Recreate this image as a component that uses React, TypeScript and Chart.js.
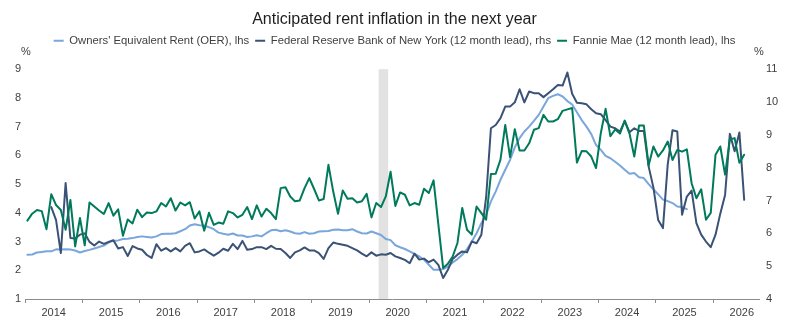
import React, { useEffect, useRef } from "react";
import { Chart, registerables } from "chart.js";

Chart.register(...registerables);

const FONT = "'Liberation Sans', Arial, sans-serif";

const startYear = 2014;
const yearLabels = ["2014", "2015", "2016", "2017", "2018", "2019", "2020", "2021", "2022", "2023", "2024", "2025", "2026"];
const monthCount = 151;
const months: string[] = Array.from({ length: monthCount }, (_, i) =>
  `${startYear + Math.floor(i / 12)}-${String((i % 12) + 1).padStart(2, "0")}`
);

const recessionStart = "2020-03";
const recessionEnd = "2020-04";

const leftTicks = [1, 2, 3, 4, 5, 6, 7, 8, 9];
const rightTicks = [4, 5, 6, 7, 8, 9, 10, 11];

// Owners' Equivalent Rent (OER), lhs
const oer: (number | null)[] = [
  2.54, 2.55, 2.62, 2.64, 2.66, 2.66, 2.73, 2.72, 2.73, 2.72, 2.69, 2.62,
  2.67, 2.71, 2.76, 2.81, 2.86, 2.96, 3.03, 3.04, 3.09, 3.1, 3.12, 3.16,
  3.18, 3.16, 3.14, 3.18, 3.26, 3.27, 3.27, 3.29, 3.36, 3.43, 3.56, 3.6,
  3.57, 3.56, 3.5, 3.43, 3.31, 3.27, 3.24, 3.28, 3.21, 3.21, 3.16, 3.18,
  3.22, 3.18, 3.29, 3.39, 3.41, 3.36, 3.39, 3.35, 3.29, 3.27, 3.33, 3.27,
  3.29, 3.35, 3.36, 3.37, 3.41, 3.42, 3.39, 3.39, 3.43, 3.35, 3.29, 3.28,
  3.35, 3.29, 3.23, 3.09, 3.05, 2.87, 2.8, 2.74, 2.66, 2.57, 2.48, 2.37,
  2.19, 2.02, 2.02, 2.04, 2.13, 2.27, 2.39, 2.54, 2.74, 3.0, 3.29, 3.64,
  3.93, 4.4, 4.74, 5.15, 5.5, 5.84, 6.28, 6.6, 6.83, 7.0, 7.2, 7.41,
  7.7, 7.99, 8.07, 8.13, 8.05, 7.89, 7.77, 7.5, 7.23, 7.0, 6.74, 6.36,
  6.19, 5.98, 5.9, 5.78, 5.65, 5.5, 5.36, 5.39, 5.24, 5.21, 5.0, 4.82,
  4.64, 4.46, 4.41, 4.34, 4.22, 4.2, 4.13, null, null, null, null, null,
  null, null, null, null, null, null, null,
];

// Federal Reserve Bank of New York (12 month lead), rhs
const nyFed: (number | null)[] = [
  null, null, null, null, null, 6.8, 6.4, 5.4, 7.53, 5.86, 5.84, 5.96,
  6.0, 5.74, 5.63, 5.75, 5.68, 5.74, 5.79, 5.54, 5.58, 5.31, 5.61, 5.54,
  5.5, 5.34, 5.25, 5.67, 5.47, 5.55, 5.45, 5.55, 5.45, 5.62, 5.7, 5.42,
  5.45, 5.51, 5.41, 5.32, 5.41, 5.53, 5.47, 5.68, 5.52, 5.77, 5.5, 5.52,
  5.58, 5.58, 5.52, 5.62, 5.53, 5.52, 5.4, 5.25, 5.42, 5.48, 5.57, 5.48,
  5.48, 5.4, 5.22, 5.55, 5.72, 5.68, 5.65, 5.62, 5.55, 5.48, 5.38, 5.3,
  5.42, 5.32, 5.36, 5.35, 5.4, 5.3, 5.25, 5.19, 5.09, 5.38, 5.2, 5.23,
  5.12, 5.2, 5.04, 4.64, 4.89, 5.22, 5.35, 5.45, 5.42, 5.75, 5.7, 5.96,
  7.1, 9.2, 9.3, 9.51, 9.86, 9.86, 9.99, 10.39, 9.99, 10.32, 10.27, 10.27,
  10.15, 10.27, 10.39, 10.52, 10.5, 10.9, 10.25, 9.98, 9.96, 9.93, 9.78, 9.66,
  9.63, 9.45, 9.25, 9.2, 9.1, 9.42, 9.08, 9.2, 9.12, 9.12, 8.04, 7.4,
  6.41, 6.16, 8.1, 9.14, 9.1, 6.57, 7.12, 7.3, 6.31, 5.96, 5.75, 5.58,
  5.96, 6.6, 7.17, 9.03, 8.5, 9.07, 7.02,
];

// Fannie Mae (12 month lead), lhs
const fannie: (number | null)[] = [
  3.73, 3.97, 4.1, 4.06, 3.43, 4.65, 4.27, 4.1, 3.41, 4.45, 2.83, 3.82,
  2.87, 4.36, 4.22, 4.08, 3.96, 4.34, 3.9, 4.12, 3.2, 3.77, 3.63, 4.11,
  3.85, 4.01, 3.99, 4.05, 4.34, 4.22, 4.51, 4.08, 4.36, 4.26, 4.37, 3.8,
  4.05, 3.38, 4.0, 3.58, 3.66, 3.62, 4.05, 3.99, 3.84, 3.93, 4.2, 3.78,
  4.26, 3.87, 4.14, 3.99, 3.78, 4.86, 4.89, 4.57, 4.4, 4.43, 4.86, 5.21,
  4.83, 4.43, 4.48, 5.67, 4.74, 3.97, 4.78, 4.49, 4.51, 4.36, 4.4, 4.66,
  3.84, 4.34, 4.2, 4.57, 5.43, 4.24, 4.71, 4.63, 4.26, 4.34, 4.28, 4.84,
  4.69, 5.13, 3.6, 2.08, 2.23, 2.48, 2.95, 4.17, 3.41, 3.24, 4.22, 3.99,
  3.76, 5.35, 5.36, 5.85, 7.06, 5.94, 6.91, 6.17, 6.17, 6.42, 6.89, 6.95,
  7.41, 7.18, 7.18, 7.26, 7.55, 7.6, 7.65, 5.75, 6.15, 6.14, 5.96, 5.56,
  6.78, 7.62, 6.67, 6.9, 6.76, 7.21, 6.76, 5.96, 7.04, 7.04, 5.65, 6.31,
  5.96, 6.17, 6.48, 5.84, 6.19, 6.13, 6.21, 5.03, 4.51, 4.82, 3.76, 4.0,
  6.02, 6.31, 5.33, 6.55, 6.6, 5.74, 6.02,
];

const COLORS = {
  oer: "#79A6DB",
  nyFed: "#3A5275",
  fannie: "#007A5A",
  band: "#E2E2E2",
  axis: "#8C8C8C",
  text: "#404040",
};

const toPoints = (arr: (number | null)[]) =>
  months.map((_, i) => ({ x: i + 0.5, y: arr[i] ?? null }));

const xTickValues: number[] = [];
yearLabels.forEach((_, k) => {
  xTickValues.push(k * 12);
  xTickValues.push(k * 12 + 6);
});

const bandPlugin = {
  id: "recessionBand",
  beforeDatasetsDraw(chart: any) {
    const { ctx, chartArea } = chart;
    const xs = chart.scales.x;
    const a = xs.getPixelForValue(months.indexOf(recessionStart));
    const b = xs.getPixelForValue(months.indexOf(recessionEnd) + 1);
    ctx.save();
    ctx.fillStyle = COLORS.band;
    ctx.fillRect(a, chartArea.top, b - a, chartArea.bottom - chartArea.top);
    ctx.restore();
  },
};

const unitPlugin = {
  id: "unitLabels",
  afterDraw(chart: any) {
    const { ctx, chartArea } = chart;
    ctx.save();
    ctx.font = `11px ${FONT}`;
    ctx.fillStyle = COLORS.text;
    ctx.textAlign = "center";
    ctx.textBaseline = "middle";
    ctx.fillText("%", chartArea.left + 1, chartArea.top - 17);
    ctx.fillText("%", chartArea.right, chartArea.top - 17);
    ctx.restore();
  },
};

const legendSpacer = {
  id: "legendSpacer",
  beforeInit(chart: any) {
    const legend = chart.legend;
    if (!legend) return;
    const orig = legend.fit;
    legend.fit = function fit() {
      orig.bind(legend)();
      legend.height = 40;
    };
  },
};

export default function App() {
  const ref = useRef<HTMLCanvasElement>(null);
  useEffect(() => {
    document.body.style.margin = "0";
    const chart = new Chart(ref.current as HTMLCanvasElement, {
      type: "line",
      data: {
        datasets: [
          {
            label: "Owners' Equivalent Rent (OER), lhs",
            data: toPoints(oer),
            borderColor: COLORS.oer,
            backgroundColor: COLORS.oer,
            yAxisID: "y",
            order: 3,
          },
          {
            label: "Federal Reserve Bank of New York (12 month lead), rhs",
            data: toPoints(nyFed),
            borderColor: COLORS.nyFed,
            backgroundColor: COLORS.nyFed,
            yAxisID: "y1",
            order: 2,
          },
          {
            label: "Fannie Mae (12 month lead), lhs",
            data: toPoints(fannie),
            borderColor: COLORS.fannie,
            backgroundColor: COLORS.fannie,
            yAxisID: "y",
            order: 1,
          },
        ] as any,
      },
      options: {
        responsive: false,
        animation: false,
        devicePixelRatio: 1,
        layout: { padding: 0 },
        elements: {
          line: { borderWidth: 2, tension: 0, borderCapStyle: "round", borderJoinStyle: "round" },
          point: { radius: 0, hoverRadius: 0 },
        },
        spanGaps: false,
        plugins: {
          title: {
            display: true,
            text: "Anticipated rent inflation in the next year",
            color: "#1E1E1E",
            font: { family: FONT, size: 16, weight: "normal" },
            padding: { top: 10, bottom: 0 },
          },
          legend: {
            display: true,
            position: "top",
            labels: {
              font: { family: FONT, size: 11.3 },
              color: COLORS.text,
              boxWidth: 10,
              boxHeight: 2,
              padding: 6,
              sort: (a: any, b: any) => a.datasetIndex - b.datasetIndex,
              generateLabels: (chart: any) =>
                chart.data.datasets.map((ds: any, i: number) => ({
                  text: ds.label,
                  fillStyle: ds.borderColor,
                  strokeStyle: ds.borderColor,
                  lineWidth: 0,
                  hidden: false,
                  datasetIndex: i,
                  fontColor: COLORS.text,
                })),
            },
          },
          tooltip: { enabled: false },
        },
        scales: {
          x: {
            type: "linear",
            min: 0,
            max: 153.6,
            afterBuildTicks: (scale: any) => {
              scale.ticks = xTickValues.map((v) => ({ value: v }));
            },
            afterFit: (scale: any) => {
              scale.height = 26;
            },
            ticks: {
              autoSkip: false,
              maxRotation: 0,
              padding: 3,
              color: COLORS.text,
              font: { family: FONT, size: 11 },
              callback: (value: any) => {
                const v = Number(value);
                if (v % 12 === 6) return yearLabels[(v - 6) / 12];
                return "";
              },
            },
            grid: {
              display: true,
              drawOnChartArea: false,
              drawTicks: true,
              tickLength: 4,
              color: (ctx: any) =>
                ctx.tick && ctx.tick.value % 12 === 0 ? COLORS.axis : "rgba(0,0,0,0)",
            },
            border: { display: true, color: COLORS.axis, width: 1 },
          },
          y: {
            type: "linear",
            position: "left",
            min: leftTicks[0],
            max: leftTicks[leftTicks.length - 1],
            afterBuildTicks: (scale: any) => {
              scale.ticks = leftTicks.map((v) => ({ value: v }));
            },
            afterFit: (scale: any) => {
              scale.width = 25;
            },
            ticks: {
              padding: 4,
              color: COLORS.text,
              font: { family: FONT, size: 11 },
            },
            grid: { display: false, drawTicks: false },
            border: { display: false },
          },
          y1: {
            type: "linear",
            position: "right",
            min: rightTicks[0],
            max: rightTicks[rightTicks.length - 1],
            afterBuildTicks: (scale: any) => {
              scale.ticks = rightTicks.map((v) => ({ value: v }));
            },
            afterFit: (scale: any) => {
              scale.width = 30;
            },
            ticks: {
              padding: 7,
              color: COLORS.text,
              font: { family: FONT, size: 11 },
            },
            grid: { display: false, drawTicks: false },
            border: { display: false },
          },
        },
      } as any,
      plugins: [bandPlugin, unitPlugin, legendSpacer],
    });
    return () => chart.destroy();
  }, []);
  return (
    <div style={{ width: 789, height: 325 }}>
      <canvas ref={ref} width={789} height={325} style={{ display: "block" }} />
    </div>
  );
}
